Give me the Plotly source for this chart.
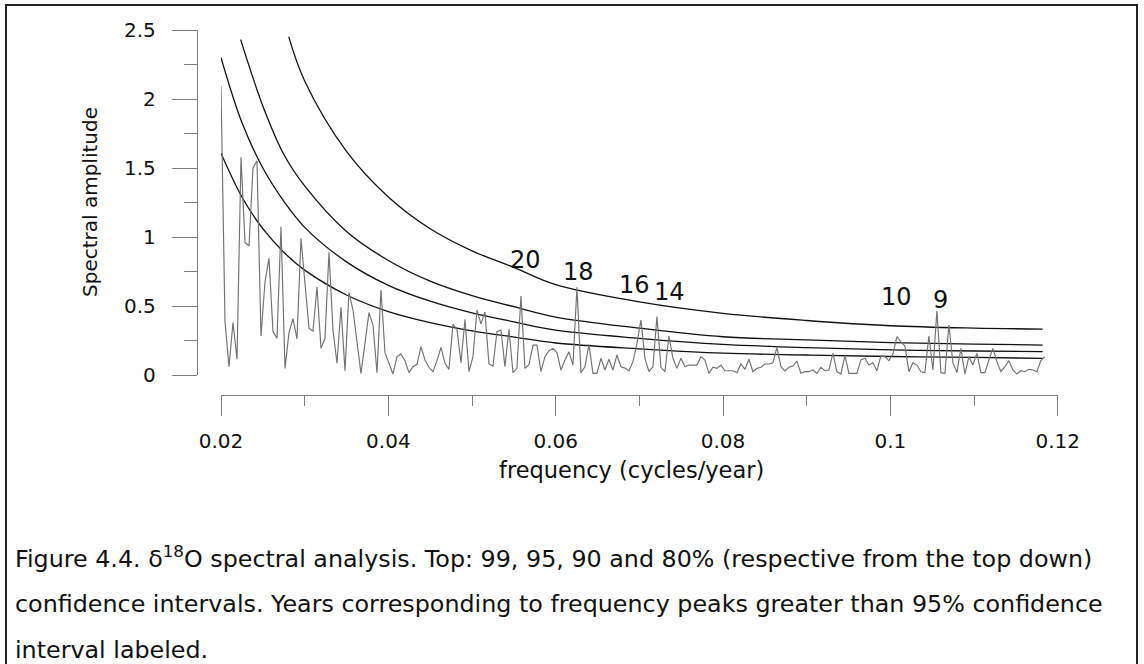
import plotly.graph_objects as go

W, H = 1144, 664

# ---------------- data ----------------
freq_start = 0.02
freq_step = 0.000478
spectrum = [
    2.09, 0.386, 0.06, 0.38, 0.114, 1.577, 0.96, 0.935, 1.50, 1.553,
    0.283, 0.676, 0.845, 0.314, 0.266, 1.075, 0.048, 0.307, 0.408, 0.261,
    0.99, 0.664, 0.338, 0.319, 0.64, 0.193, 0.266, 0.889, 0.326, 0.085,
    0.49, 0.031, 0.599, 0.471, 0.242, 0.012, 0.23, 0.452, 0.362, 0.017,
    0.616, 0.162, 0.085, 0.007, 0.133, 0.152, 0.104, 0.017, 0.06, 0.077,
    0.205, 0.109, 0.056, 0.024, 0.104, 0.2, 0.085, 0.041, 0.367, 0.331,
    0.089, 0.403, 0.024, 0.133, 0.471, 0.37, 0.457, 0.08, 0.065, 0.314,
    0.326, 0.06, 0.331, 0.017, 0.048, 0.572, 0.048, 0.075, 0.217, 0.217,
    0.024, 0.133, 0.176, 0.193, 0.162, 0.036, 0.109, 0.169, 0.072, 0.635,
    0.017, 0.06, 0.222, 0.012, 0.012, 0.121, 0.036, 0.114, 0.036, 0.145,
    0.06, 0.05, 0.03, 0.097, 0.229, 0.399, 0.121, 0.024, 0.06, 0.423,
    0.056, 0.024, 0.283, 0.121, 0.048, 0.121, 0.06, 0.072, 0.072, 0.072,
    0.133, 0.109, 0.012, 0.056, 0.048, 0.072, 0.031, 0.031, 0.031, 0.017,
    0.08, 0.041, 0.114, 0.024, 0.048, 0.056, 0.08, 0.08, 0.089, 0.2,
    0.06, 0.029, 0.056, 0.065, 0.101, 0.012, 0.024, 0.024, 0.036, 0.012,
    0.056, 0.031, 0.036, 0.157, 0.024, 0.007, 0.143, 0.012, 0.012, 0.012,
    0.109, 0.121, 0.072, 0.089, 0.031, 0.138, 0.133, 0.104, 0.152, 0.278,
    0.242, 0.21, 0.024, 0.089, 0.072, 0.024, 0.017, 0.283, 0.036, 0.464,
    0.017, 0.012, 0.362, 0.089, 0.017, 0.193, 0.007, 0.133, 0.072, 0.157,
    0.017, 0.017, 0.109, 0.193, 0.097, 0.024, 0.06, 0.104, 0.036, 0.007,
    0.031, 0.024, 0.041, 0.036, 0.024, 0.104, 0.133,
]
spectrum_freq = [freq_start + i * freq_step for i in range(len(spectrum))]

# confidence curves
f_lo = [0.02, 0.0225, 0.025, 0.0275, 0.03, 0.035, 0.04, 0.045, 0.05, 0.055,
        0.06, 0.07, 0.08, 0.09, 0.10, 0.11, 0.1182]
ci80 = [1.607, 1.29, 1.06, 0.89, 0.76, 0.58, 0.46, 0.38, 0.32, 0.275,
        0.232, 0.19, 0.158, 0.145, 0.134, 0.127, 0.121]
ci90 = [2.30, 1.83, 1.50, 1.26, 1.07, 0.82, 0.65, 0.535, 0.45, 0.385,
        0.325, 0.266, 0.222, 0.198, 0.182, 0.174, 0.169]
f95 = [0.02235, 0.025, 0.0275, 0.03, 0.035, 0.04, 0.045, 0.05, 0.055, 0.06,
       0.07, 0.08, 0.09, 0.10, 0.11, 0.1182]
ci95 = [2.43, 1.95, 1.60, 1.37, 1.04, 0.83, 0.68, 0.575, 0.495, 0.42,
        0.34, 0.277, 0.254, 0.235, 0.224, 0.217]
f99 = [0.0281, 0.03, 0.035, 0.04, 0.045, 0.05, 0.055, 0.06, 0.07, 0.08,
       0.09, 0.10, 0.11, 0.1182]
ci99 = [2.45, 2.13, 1.62, 1.29, 1.06, 0.90, 0.78, 0.655, 0.53, 0.447,
        0.395, 0.357, 0.34, 0.333]

peak_labels = ["20", "18", "16", "14", "10", "9"]
peak_label_freq = [0.05645, 0.06267, 0.06936, 0.07366, 0.10079, 0.10605]
peak_label_amp = [0.833, 0.746, 0.652, 0.601, 0.565, 0.543]

x_ticks = [0.02, 0.04, 0.06, 0.08, 0.10, 0.12]
x_ticktext = ["0.02", "0.04", "0.06", "0.08", "0.1", "0.12"]
x_minor = [0.03, 0.05, 0.07, 0.09, 0.11]
y_ticks = [0, 0.5, 1.0, 1.5, 2.0, 2.5]
y_ticktext = ["0", "0.5", "1", "1.5", "2", "2.5"]
y_minor = [0.25, 0.75, 1.25, 1.75, 2.25]

caption_lines = [
    "Figure 4.4. δ<sup>18</sup>O spectral analysis. Top: 99, 95, 90 and 80% (respective from the top down)",
    "confidence intervals. Years corresponding to frequency peaks greater than 95% confidence",
    "interval labeled.",
]

# ---------------- figure ----------------
FONT = "DejaVu Sans"
fig = go.Figure()

for fx, fy in [(f99, ci99), (f95, ci95), (f_lo, ci90), (f_lo, ci80)]:
    fig.add_trace(go.Scatter(x=fx, y=fy, mode="lines",
                             line=dict(color="#111111", width=1.3, shape="spline", smoothing=1.0),
                             hoverinfo="skip", showlegend=False))

fig.add_trace(go.Scatter(x=spectrum_freq, y=spectrum, mode="lines",
                         line=dict(color="#727272", width=1.15),
                         showlegend=False))

for t, fx, fy in zip(peak_labels, peak_label_freq, peak_label_amp):
    fig.add_annotation(x=fx, y=fy, xref="x", yref="y", text=t, showarrow=False,
                       font=dict(family=FONT, size=24, color="#111111"),
                       xanchor="center", yanchor="middle")

def px_x(p):
    return p / W

def px_y(p):
    return 1 - p / H

axis_col = "#7f7f7f"
fig.update_layout(
    width=W, height=H, autosize=False,
    margin=dict(l=0, r=0, t=0, b=0, pad=0, autoexpand=False),
    paper_bgcolor="white", plot_bgcolor="white",
    xaxis=dict(
        domain=[px_x(221), px_x(1057.7)], range=[0.02, 0.12],
        anchor="free", position=px_y(395), automargin=False,
        showline=True, linecolor=axis_col, linewidth=1.3,
        ticks="outside", ticklen=20, tickwidth=1.3, tickcolor=axis_col,
        tickmode="array", tickvals=x_ticks, ticktext=x_ticktext,
        minor=dict(tickmode="array", tickvals=x_minor, ticks="outside", ticklen=10,
                   tickwidth=1.3, tickcolor=axis_col),
        showgrid=False, zeroline=False,
        tickfont=dict(family=FONT, size=20, color="#111111"),
        ticklabelstandoff=8,
    ),
    yaxis=dict(
        domain=[px_y(375), px_y(30)], range=[0, 2.5],
        anchor="free", position=px_x(197), automargin=False,
        showline=True, linecolor=axis_col, linewidth=1.3,
        ticks="outside", ticklen=25, tickwidth=1.3, tickcolor=axis_col,
        tickmode="array", tickvals=y_ticks, ticktext=y_ticktext,
        minor=dict(tickmode="array", tickvals=y_minor, ticks="outside", ticklen=13,
                   tickwidth=1.3, tickcolor=axis_col),
        showgrid=False, zeroline=False,
        tickfont=dict(family=FONT, size=20, color="#111111"),
        ticklabelstandoff=12,
    ),
)

fig.add_annotation(x=px_x(90), y=px_y(202), xref="paper", yref="paper",
                   text="Spectral amplitude", textangle=-90, showarrow=False,
                   font=dict(family=FONT, size=20, color="#111111"),
                   xanchor="center", yanchor="middle")
fig.add_annotation(x=px_x(631), y=px_y(470), xref="paper", yref="paper",
                   text="frequency (cycles/year)", showarrow=False,
                   font=dict(family=FONT, size=22.5, color="#111111"),
                   xanchor="center", yanchor="middle")

for line, ypx in zip(caption_lines, [557, 604, 650]):
    fig.add_annotation(x=px_x(13), y=px_y(ypx), xref="paper", yref="paper",
                       text=line, showarrow=False,
                       font=dict(family=FONT, size=23.8, color="#111111"),
                       xanchor="left", yanchor="middle")

fig.add_shape(type="rect", xref="paper", yref="paper",
              x0=px_x(6), x1=px_x(1137), y0=px_y(5), y1=px_y(672),
              line=dict(color="#222222", width=2), fillcolor="rgba(0,0,0,0)")

fig.write_html("out.html")
